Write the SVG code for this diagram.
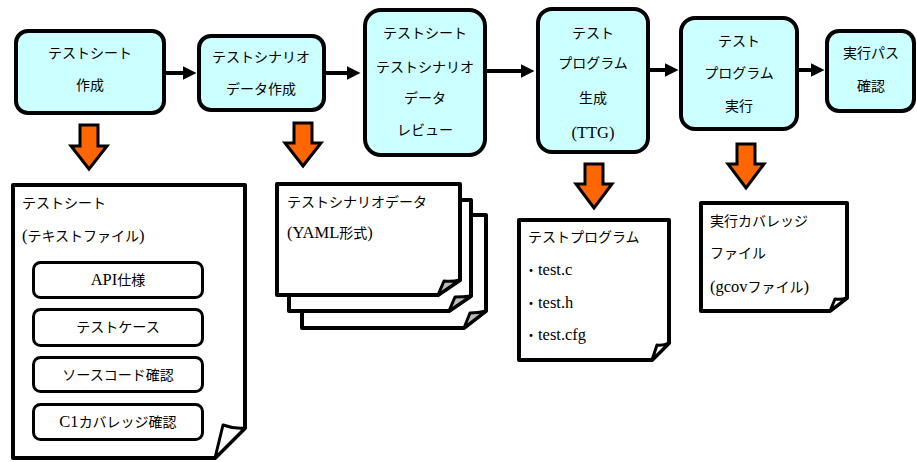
<svg xmlns="http://www.w3.org/2000/svg" width="917" height="462" viewBox="0 0 917 462">
<style>
.node{fill:#CCFFFF;stroke:#000;stroke-width:4}
.nt{font-family:"Noto Sans CJK JP","Liberation Sans",sans-serif;font-size:14px;fill:#000;text-anchor:middle}
.st{font-family:"Liberation Serif","Noto Sans CJK JP",serif;font-size:14px;fill:#000}
.la{font-size:16.5px}
.doc{fill:#fff;stroke:#000;stroke-width:4;stroke-linejoin:round}
.fold{fill:#fff;stroke:#000;stroke-width:3;stroke-linejoin:round}
.inner{fill:#fff;stroke:#000;stroke-width:3}
.conn{stroke:#000;stroke-width:4;fill:none}
.out{fill:#FF6600;stroke:#000;stroke-width:3;stroke-linejoin:miter}
</style>
<defs>
<marker id="ah" markerUnits="userSpaceOnUse" markerWidth="15" markerHeight="15" refX="0.5" refY="7" orient="auto">
<path d="M0,0 L14,7 L0,14 z" fill="#000"/>
</marker>
</defs>
<rect width="917" height="462" fill="#fff"/>

<g id="connectors">
<line class="conn" x1="164" y1="73" x2="183" y2="73" marker-end="url(#ah)"/>
<line class="conn" x1="324" y1="73" x2="347" y2="73" marker-end="url(#ah)"/>
<line class="conn" x1="485" y1="71" x2="521" y2="71" marker-end="url(#ah)"/>
<line class="conn" x1="648" y1="70" x2="665" y2="70" marker-end="url(#ah)"/>
<line class="conn" x1="797" y1="70" x2="811" y2="70" marker-end="url(#ah)"/>
<polygon class="out" points="80,125 98,125 98,146 107,146 89,169 71,146 80,146"/>
<polygon class="out" points="294,123 312,123 312,143 321,143 303,166 285,143 294,143"/>
<polygon class="out" points="585,164 603,164 603,184 612,184 594,208 576,184 585,184"/>
<polygon class="out" points="737,144 755,144 755,164 764,164 746,188 728,164 737,164"/>
</g>

<g id="node1">
<rect class="node" x="16" y="31" width="148" height="82" rx="12"/>
<text class="nt" x="90" y="58">テストシート</text>
<text class="nt" x="90" y="90">作成</text>
</g>
<g id="node2">
<rect class="node" x="199" y="36" width="125" height="74" rx="12"/>
<text class="nt" x="261" y="62">テストシナリオ</text>
<text class="nt" x="261" y="94">データ作成</text>
</g>
<g id="node3">
<rect class="node" x="365" y="10" width="120" height="145" rx="16"/>
<text class="nt" x="425" y="38">テストシート</text>
<text class="nt" x="425" y="72">テストシナリオ</text>
<text class="nt" x="425" y="103">データ</text>
<text class="nt" x="425" y="135">レビュー</text>
</g>
<g id="node4">
<rect class="node" x="538" y="9" width="110" height="143" rx="14"/>
<text class="nt" x="593" y="38">テスト</text>
<text class="nt" x="593" y="68">プログラム</text>
<text class="nt" x="593" y="103">生成</text>
<text class="st la" x="593" y="138" text-anchor="middle">(TTG)</text>
</g>
<g id="node5">
<rect class="node" x="681" y="18" width="116" height="111" rx="14"/>
<text class="nt" x="739" y="46">テスト</text>
<text class="nt" x="739" y="78">プログラム</text>
<text class="nt" x="739" y="111">実行</text>
</g>
<g id="node6">
<rect class="node" x="827" y="31" width="87" height="80" rx="12"/>
<text class="nt" x="871" y="58">実行パス</text>
<text class="nt" x="871" y="91">確認</text>
</g>

<g id="doc-testsheet">
<path class="doc" d="M13,185 H245 V428 L215,458 H13 Z"/>
<path class="fold" d="M215,458 L223,425 Q234,429 245,428 Z"/>
<text class="st" x="22" y="208">テストシート</text>
<text class="st" x="22" y="241"><tspan class="la">(</tspan>テキストファイル<tspan class="la">)</tspan></text>
<rect class="inner" x="33.5" y="262.5" width="169" height="35" rx="7"/>
<text class="st" x="118" y="285" text-anchor="middle"><tspan class="la">API</tspan>仕様</text>
<rect class="inner" x="33.5" y="309.5" width="169" height="36" rx="7"/>
<text class="st" x="118" y="332" text-anchor="middle">テストケース</text>
<rect class="inner" x="33.5" y="357.5" width="169" height="34" rx="7"/>
<text class="st" x="118" y="380" text-anchor="middle">ソースコード確認</text>
<rect class="inner" x="33.5" y="404.5" width="169" height="35" rx="7"/>
<text class="st" x="118" y="427" text-anchor="middle"><tspan class="la">C1</tspan>カバレッジ確認</text>
</g>

<g id="doc-scenario">
<path class="doc" d="M302,215 H486 V311 L464,328 H302 Z"/>
<path class="fold" d="M464,328 L470,313 Q478,313 486,311 Z" style="fill:#bbb"/>
<path class="doc" d="M289,200 H471 V296 L449,311 H289 Z"/>
<path class="fold" d="M449,311 L455,297 Q463,297 471,296 Z" style="fill:#bbb"/>
<path class="doc" d="M277,184 H460 V280 L438,295 H277 Z"/>
<path class="fold" d="M438,295 L444,281 Q452,282 460,280 Z" style="fill:#bbb"/>
<text class="st" x="287" y="207">テストシナリオデータ</text>
<text class="st" x="287" y="238"><tspan class="la">(YAML</tspan>形式<tspan class="la">)</tspan></text>
</g>

<g id="doc-program">
<path class="doc" d="M519,220 H669 V343 L652,360 H519 Z"/>
<path class="fold" d="M652,360 L657,345 Q663,346 669,343 Z"/>
<text class="st" x="528" y="242">テストプログラム</text>
<text class="st" x="524" y="275">・<tspan class="la">test.c</tspan></text>
<text class="st" x="524" y="308">・<tspan class="la">test.h</tspan></text>
<text class="st" x="524" y="340">・<tspan class="la">test.cfg</tspan></text>
</g>

<g id="doc-coverage">
<path class="doc" d="M701,203 H847 V298 L830,311 H701 Z"/>
<path class="fold" d="M830,311 L835,299 Q841,300 847,298 Z"/>
<text class="st" x="710" y="226">実行カバレッジ</text>
<text class="st" x="710" y="258">ファイル</text>
<text class="st" x="710" y="292"><tspan class="la">(gcov</tspan>ファイル<tspan class="la">)</tspan></text>
</g>
</svg>
